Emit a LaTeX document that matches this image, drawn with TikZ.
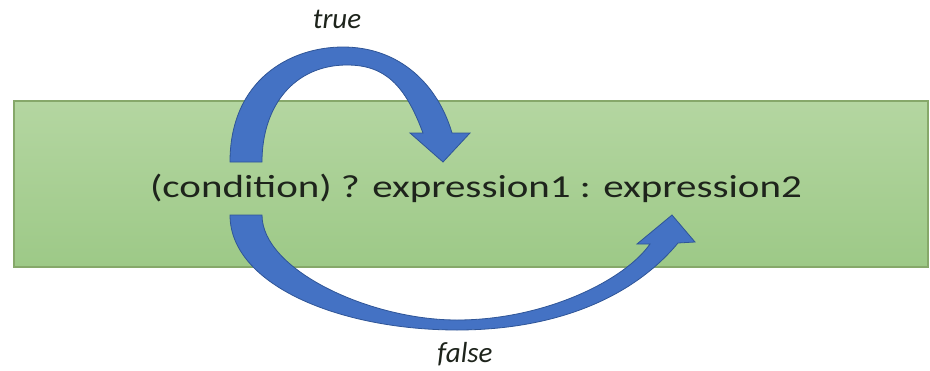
\documentclass[tikz,border=0pt]{standalone}
\usepackage{fontspec}
\usepackage{graphicx}
\setmainfont{Carlito}
\definecolor{panelTop}{HTML}{B4D6A1}
\definecolor{panelBot}{HTML}{9DC987}
\definecolor{panelEdge}{HTML}{86A86A}
\definecolor{arrowFill}{HTML}{4472C4}
\definecolor{arrowEdge}{HTML}{2F5597}
\definecolor{ink}{HTML}{1E241C}
\tikzset{
  panel/.style={draw=panelEdge, line width=1.2pt, top color=panelTop, bottom color=panelBot},
  bentarrow/.style={fill=arrowFill, draw=arrowEdge, line width=0.8pt, line join=miter},
  codetext/.style={inner sep=0pt, text=ink, font=\fontsize{32}{32}\selectfont},
  branchlabel/.style={inner sep=0pt, text=ink, font=\itshape\fontsize{29}{29}\selectfont}
}
\begin{document}
\begin{tikzpicture}[x=1pt, y=-1pt]
  \useasboundingbox (0,0) rectangle (930,370);
  % green panel holding the expression
  \path[panel] (14,101) rectangle (928,267);
  \node[codetext, anchor=base] (expr) at (476,197)
    {\scalebox{1.28}[1]{(condition) ? expression1 : expression2}};
  % branch labels
  \node[branchlabel, anchor=base] (ltrue) at (337,28) {true};
  \node[branchlabel, anchor=base] (lfalse) at (465,362) {false};
  % curved arrow over the top: condition -> expression1
  \path[bentarrow]
    (230,162) .. controls (230,80) and (290,47) .. (343,47)
    .. controls (400,47) and (438,85) .. (452,133)
    -- (470,133) -- (443,162) -- (410,133) -- (423,133)
    .. controls (405,85) and (385,65) .. (347,65)
    .. controls (295,65) and (262,105) .. (262,162) -- cycle;
  % curved arrow underneath: condition -> expression2
  \path[bentarrow]
    (230,215) .. controls (230,285) and (340,330) .. (457,330)
    .. controls (560,330) and (635,295) .. (678,243)
    -- (695,242) -- (672,215) -- (637,244) -- (650,244)
    .. controls (625,280) and (545,320) .. (457,320)
    .. controls (370,320) and (262,270) .. (262,215) -- cycle;
\end{tikzpicture}
\end{document}
